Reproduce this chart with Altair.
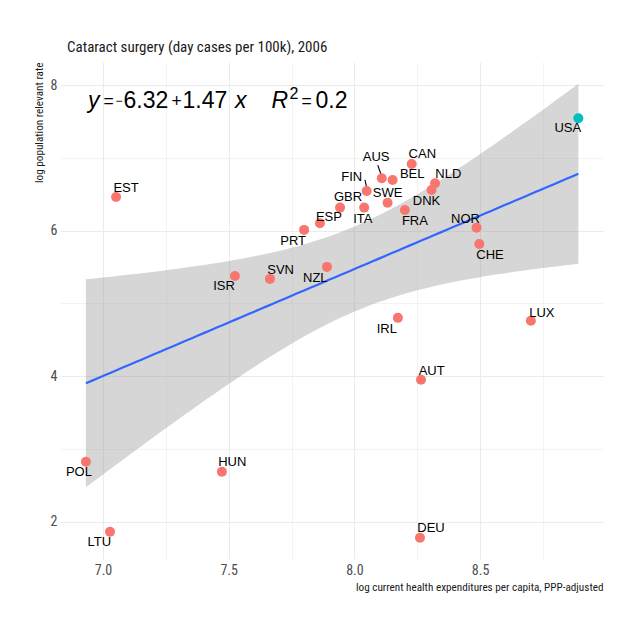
import altair as alt
import numpy as np
import pandas as pd

# ---- data ----
codes = ["USA", "CAN", "AUS", "BEL", "NLD", "DNK", "FIN", "SWE", "GBR", "ITA",
         "FRA", "ESP", "PRT", "NOR", "CHE", "EST", "ISR", "SVN", "NZL", "IRL",
         "LUX", "AUT", "POL", "HUN", "LTU", "DEU"]
spend = [8.891, 8.228, 8.109, 8.152, 8.321, 8.307, 8.049, 8.132, 7.943, 8.039,
         8.201, 7.863, 7.800, 8.486, 8.497, 7.052, 7.525, 7.664, 7.891, 8.173,
         8.702, 8.265, 6.932, 7.473, 7.028, 8.261]
rate = [7.543, 6.916, 6.719, 6.696, 6.651, 6.559, 6.545, 6.384, 6.316, 6.316,
        6.284, 6.102, 6.010, 6.041, 5.817, 6.463, 5.378, 5.337, 5.502, 4.802,
        4.761, 3.951, 2.825, 2.688, 1.864, 1.782]
highlight = ["USA"]

x_major = [7.0, 7.5, 8.0, 8.5]
x_minor = [7.25, 7.75, 8.25, 8.75]
y_major = [2, 4, 6, 8]
y_minor = [3, 5, 7]

title_text = "Cataract surgery (day cases per 100k), 2006"
x_title = "log current health expenditures per capita, PPP-adjusted"
y_title = "log population relevant rate"

# label offsets (pixels, label centre relative to point) - style only
label_dx = [-10.6, 10.6, -5.7, 19.6, 13.3, -5, -15, 0, 8, -1.3,
            10, 9, -11, -11, 10.7, 10, -11, 10.7, -11.7, -11,
            11, 10.7, -7, 10.4, -10.7, 11]
label_dy = [10, -10, -21.6, -5.7, -9, 11, -14.3, -9.4, -11, 11.3,
            10.7, -6.6, 11, -8.7, 11, -9, 10.3, -9.3, 11.6, 11,
            -8.3, -8.4, 10, -9.3, 10.7, -10]
# repel segments (pixel offsets from the point: start x,y -> end x,y)
segments = {"AUS": (-4, -13, -0.5, -3), "FIN": (-1.7, -11, 0, -3)}

df = pd.DataFrame({"code": codes, "x": spend, "y": rate})
df["grp"] = np.where(df["code"].isin(highlight), "hi", "lo")

# ---- linear fit + 95% confidence band (as geom_smooth(method="lm")) ----
xa = np.array(spend)
ya = np.array(rate)
n = len(xa)
b1, b0 = np.polyfit(xa, ya, 1)
resid = ya - (b0 + b1 * xa)
s = np.sqrt(np.sum(resid ** 2) / (n - 2))
sxx = np.sum((xa - xa.mean()) ** 2)
t_crit = 2.063899  # t(0.975, df=24)
grid = np.linspace(xa.min(), xa.max(), 80)
fit = b0 + b1 * grid
se = s * np.sqrt(1.0 / n + (grid - xa.mean()) ** 2 / sxx)
band = pd.DataFrame({"x": grid, "fit": fit, "lo": fit - t_crit * se, "hi": fit + t_crit * se})

FONT_AX = "Liberation Sans Narrow, Roboto Condensed, Roboto"
FONT_TXT = "Liberation Sans, Arial"

xs = alt.Scale(domain=[6.829, 8.989], nice=False, zero=False)
ys = alt.Scale(domain=[1.49, 8.316], nice=False, zero=False)

xaxis = alt.Axis(
    values=sorted(x_major + x_minor),
    labelExpr="datum.value % 0.5 == 0 ? format(datum.value, '.1f') : ''",
    title=x_title, titleAnchor="end", titleFontSize=11.2, titleFontWeight="normal",
    titleFont=FONT_AX, titleColor="#1a1a1a", titlePadding=4,
    labelFont=FONT_AX, labelFontSize=14, labelColor="#4D4D4D", labelPadding=4,
    gridWidth={"condition": {"test": "datum.value % 0.5 != 0", "value": 0.6}, "value": 1.1},
)
yaxis = alt.Axis(
    values=sorted(y_major + y_minor),
    labelExpr="datum.value % 2 == 0 ? format(datum.value, 'd') : ''",
    title=y_title, titleAnchor="end", titleFontSize=11.2, titleFontWeight="normal",
    titleFont=FONT_AX, titleColor="#1a1a1a", titlePadding=6,
    labelFont=FONT_AX, labelFontSize=14, labelColor="#4D4D4D", labelPadding=3,
    gridWidth={"condition": {"test": "datum.value % 2 != 0", "value": 0.6}, "value": 1.1},
)

ribbon = alt.Chart(band).mark_area(color="#999999", opacity=0.4).encode(
    x=alt.X("x:Q", scale=xs, axis=xaxis),
    y=alt.Y("lo:Q", scale=ys, axis=yaxis),
    y2="hi:Q",
)
line = alt.Chart(band).mark_line(color="#3366FF", strokeWidth=2.2).encode(
    x=alt.X("x:Q", scale=xs), y=alt.Y("fit:Q", scale=ys)
)

seg_layers = []
for c, (sx, sy, ex, ey) in segments.items():
    seg_layers.append(
        alt.Chart(df).transform_filter(alt.datum.code == c)
        .mark_rule(color="#000000", strokeWidth=1.1, xOffset=sx, yOffset=sy,
                   x2Offset=ex, y2Offset=ey)
        .encode(x=alt.X("x:Q", scale=xs), x2="x:Q", y=alt.Y("y:Q", scale=ys), y2="y:Q")
    )

points = alt.Chart(df).mark_circle(size=100, opacity=1).encode(
    x=alt.X("x:Q", scale=xs),
    y=alt.Y("y:Q", scale=ys),
    color=alt.Color("grp:N", scale=alt.Scale(domain=["lo", "hi"], range=["#F8766D", "#00BFC4"]), legend=None),
)

label_layers = []
for c, dx, dy in zip(codes, label_dx, label_dy):
    label_layers.append(
        alt.Chart(df).transform_filter(alt.datum.code == c)
        .mark_text(font=FONT_TXT, fontSize=13, color="#000000", align="center",
                   baseline="middle", dx=dx, dy=dy)
        .encode(x=alt.X("x:Q", scale=xs), y=alt.Y("y:Q", scale=ys), text="code:N")
    )

# equation annotation pieces: (text, panel x, align, size, italic, baseline y)
eq_tokens = [("y", 28, "left", 23, True, 46),
             ("=", 48.7, "center", 17.5, False, 44.5),
             ("\u2212", 59, "center", 12, False, 43),
             ("6.32", 63.5, "left", 23, False, 46),
             ("+", 116.7, "center", 17.5, False, 44.5),
             ("1.47", 122.5, "left", 23, False, 46),
             ("x", 175, "left", 23, True, 46),
             ("R", 211.5, "left", 23, True, 46),
             ("2", 229.5, "left", 16, False, 36.5),
             ("=", 246.7, "center", 17.5, False, 44.5),
             ("0.2", 255.5, "left", 23, False, 46)]
one = pd.DataFrame({"k": [0]})
eq_layers = []
for txt, px, al, fs, ital, by in eq_tokens:
    eq_layers.append(
        alt.Chart(one).mark_text(font=FONT_TXT, fontSize=fs, color="#000000", align=al,
                                 baseline="alphabetic", fontStyle="italic" if ital else "normal")
        .encode(x=alt.value(px), y=alt.value(by), text=alt.value(txt))
    )

chart = alt.layer(ribbon, line, *seg_layers, points, *label_layers, *eq_layers).properties(
    width=543, height=497,
    title=alt.Title(title_text, anchor="start", frame="group", dx=7, offset=7,
                    font=FONT_AX, fontSize=15, fontWeight="normal", color="#1a1a1a"),
    autosize=alt.AutoSizeParams(type="none"),
    padding={"left": 52, "top": 54, "right": 20, "bottom": 50},
).configure_view(stroke=None).configure_axis(
    domain=False, ticks=False, gridColor="#EBEBEB"
)

chart.save("out.html", embed_options={"renderer": "svg", "actions": False})
